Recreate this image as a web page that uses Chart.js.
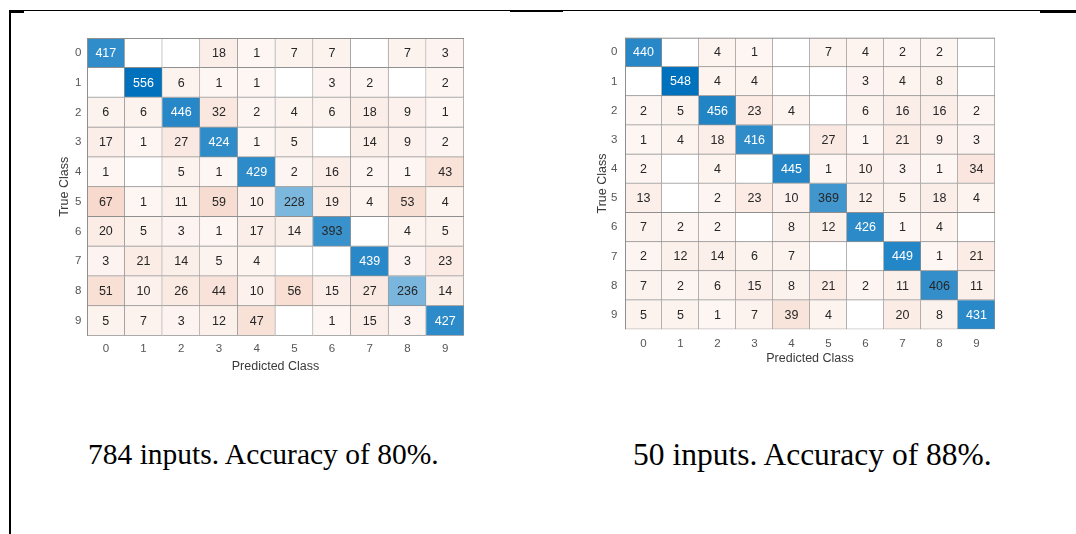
<!DOCTYPE html>
<html><head><meta charset="utf-8">
<script src="https://cdn.jsdelivr.net/npm/chart.js@4.4.1/dist/chart.umd.min.js"></script>
<style>
html,body{margin:0;padding:0;background:#fff;}
body{width:1076px;height:534px;overflow:hidden;position:relative;}
.rule{position:absolute;background:#000;}
.box{position:absolute;}
.cap{position:absolute;font-family:"Liberation Serif","Times New Roman",serif;color:#000;white-space:nowrap;}
</style></head><body>
<script>
// ---- data ----
const classLabels = ['0','1','2','3','4','5','6','7','8','9'];
// rows = true class, columns = predicted class (0 = empty cell)
const conf784 = [
  [417,  0,  0, 18,  1,  7,  7,  0,  7,  3],
  [  0,556,  6,  1,  1,  0,  3,  2,  0,  2],
  [  6,  6,446, 32,  2,  4,  6, 18,  9,  1],
  [ 17,  1, 27,424,  1,  5,  0, 14,  9,  2],
  [  1,  0,  5,  1,429,  2, 16,  2,  1, 43],
  [ 67,  1, 11, 59, 10,228, 19,  4, 53,  4],
  [ 20,  5,  3,  1, 17, 14,393,  0,  4,  5],
  [  3, 21, 14,  5,  4,  0,  0,439,  3, 23],
  [ 51, 10, 26, 44, 10, 56, 15, 27,236, 14],
  [  5,  7,  3, 12, 47,  0,  1, 15,  3,427]
];
const conf50 = [
  [440,  0,  4,  1,  0,  7,  4,  2,  2,  0],
  [  0,548,  4,  4,  0,  0,  3,  4,  8,  0],
  [  2,  5,456, 23,  4,  0,  6, 16, 16,  2],
  [  1,  4, 18,416,  0, 27,  1, 21,  9,  3],
  [  2,  0,  4,  0,445,  1, 10,  3,  1, 34],
  [ 13,  0,  2, 23, 10,369, 12,  5, 18,  4],
  [  7,  2,  2,  0,  8, 12,426,  1,  4,  0],
  [  2, 12, 14,  6,  7,  0,  0,449,  1, 21],
  [  7,  2,  6, 15,  8, 21,  2, 11,406, 11],
  [  5,  5,  1,  7, 39,  4,  0, 20,  8,431]
];
const caption784 = '784 inputs. Accuracy of 80%.';
const caption50 = '50 inputs. Accuracy of 88%.';
const axisTitleX = 'Predicted Class';
const axisTitleY = 'True Class';

// ---- style / layout ----
const FONT = '"Liberation Sans", Arial, Helvetica, sans-serif';
const GRID = '#8f8f8f', TICK = '#555555', TITLE = '#3a3a3a', CELLTXT = '#262626';
const DIAG = [0,114,189], OFF = [217,83,25];
const TICKSIZE = 11.5, TITLESIZE = 12.5, CELLSIZE = 12.5;

function rule(x0, y0, x1, y1) {
  const d = document.createElement('div');
  d.className = 'rule';
  d.style.left = x0 + 'px'; d.style.top = y0 + 'px';
  d.style.width = (x1 - x0) + 'px'; d.style.height = (y1 - y0) + 'px';
  document.body.appendChild(d);
}
rule(9, 10, 1076, 11.3);
rule(9, 10, 11, 534);
rule(9, 10, 24, 12.6);
rule(510, 10, 563, 12.2);
rule(1040, 10, 1076, 12.6);

function caption(text, x, yc, size) {
  const d = document.createElement('div');
  d.className = 'cap'; d.textContent = text;
  d.style.fontSize = size + 'px'; d.style.lineHeight = size + 'px';
  d.style.left = x + 'px'; d.style.top = (yc - size / 2) + 'px';
  document.body.appendChild(d);
}
caption(caption784, 88, 455, 29.5);
caption(caption50, 633, 455, 31.5);

function mix(c, t) {
  return 'rgb(' + c.map(v => Math.round(255 + (v - 255) * t)).join(',') + ')';
}
function cellColor(v, max, diag) {
  if (!v) return '#ffffff';
  const f = v / max;
  return diag ? mix(DIAG, Math.pow(f, 0.75)) : mix(OFF, 0.05 + Math.pow(f, 0.85));
}

function cellPlugin(matrix, max) {
  return {
    id: 'cells',
    afterDatasetsDraw(chart) {
      const ctx = chart.ctx, a = chart.chartArea;
      ctx.save();
      ctx.fillStyle = GRID;
      ctx.fillRect(a.left, a.top, 1, a.bottom - a.top);
      ctx.fillRect(a.left, a.top, a.right - a.left, 1);
      ctx.font = CELLSIZE + 'px ' + FONT;
      ctx.textAlign = 'center'; ctx.textBaseline = 'middle';
      chart.data.datasets.forEach((ds, r) => {
        chart.getDatasetMeta(r).data.forEach((el, c) => {
          const v = matrix[r][c];
          if (!v) return;
          const p = el.getCenterPoint();
          ctx.fillStyle = (r === c && v / max > 0.745) ? '#ffffff' : CELLTXT;
          ctx.fillText(String(v), p.x, p.y + 0.5);
        });
      });
      ctx.restore();
    }
  };
}

function makeChart(box, grid, matrix, pad) {
  const wrap = document.createElement('div');
  wrap.className = 'box';
  wrap.style.left = box.left + 'px'; wrap.style.top = box.top + 'px';
  const cv = document.createElement('canvas');
  cv.width = box.width; cv.height = box.height;
  cv.style.width = box.width + 'px'; cv.style.height = box.height + 'px';
  wrap.appendChild(cv); document.body.appendChild(wrap);
  const max = Math.max(...matrix.flat());
  const yAxisW = grid.x0 - box.left;
  const padR = box.left + box.width - grid.x1;
  const padT = grid.y0 - box.top;
  const xAxisH = box.top + box.height - grid.y1;
  return new Chart(cv, {
    type: 'bar',
    data: {
      labels: classLabels,
      datasets: matrix.map((row, r) => ({
        label: classLabels[r],
        data: row.map(() => [r - 0.5, r + 0.5]),
        backgroundColor: row.map((v, c) => cellColor(v, max, r === c)),
        borderColor: GRID,
        borderWidth: {top: 0, left: 0, right: 1, bottom: 1},
        borderSkipped: false,
        grouped: false,
        barPercentage: 1,
        categoryPercentage: 1
      }))
    },
    options: {
      responsive: false, animation: false, devicePixelRatio: 1,
      layout: {padding: {top: padT, right: padR, bottom: 0, left: 0}},
      plugins: {legend: {display: false}, tooltip: {enabled: false}},
      scales: {
        x: {
          type: 'category',
          grid: {display: false, drawTicks: false}, border: {display: false},
          ticks: {padding: pad.xTick, color: TICK, font: {family: FONT, size: TICKSIZE}, maxRotation: 0, autoSkip: false},
          title: {display: true, text: axisTitleX, color: TITLE, font: {family: FONT, size: TITLESIZE}, padding: {top: 0, bottom: pad.xTitle}},
          afterFit(s) { s.height = xAxisH; }
        },
        y: {
          type: 'linear', min: -0.5, max: 9.5, reverse: true,
          grid: {display: false, drawTicks: false}, border: {display: false},
          afterBuildTicks(s) { s.ticks = classLabels.map((_, i) => ({value: i})); },
          ticks: {padding: pad.yTick, color: TICK, font: {family: FONT, size: TICKSIZE}, callback: (v) => classLabels[v]},
          title: {display: true, text: axisTitleY, color: TITLE, font: {family: FONT, size: TITLESIZE}, padding: {top: pad.yTitle, bottom: 0}},
          afterFit(s) { s.width = yAxisW; }
        }
      }
    },
    plugins: [cellPlugin(matrix, max)]
  });
}

makeChart({left: 37, top: 20, width: 440, height: 370},
          {x0: 87, x1: 464, y0: 38, y1: 335.7}, conf784,
          {xTick: 5.9, xTitle: 16, yTick: 5.5, yTitle: 20});
makeChart({left: 590, top: 20, width: 430, height: 360},
          {x0: 625, x1: 995, y0: 37.7, y1: 329.3}, conf50,
          {xTick: 7.3, xTitle: 14, yTick: 7.5, yTitle: 5});
</script>
</body></html>
